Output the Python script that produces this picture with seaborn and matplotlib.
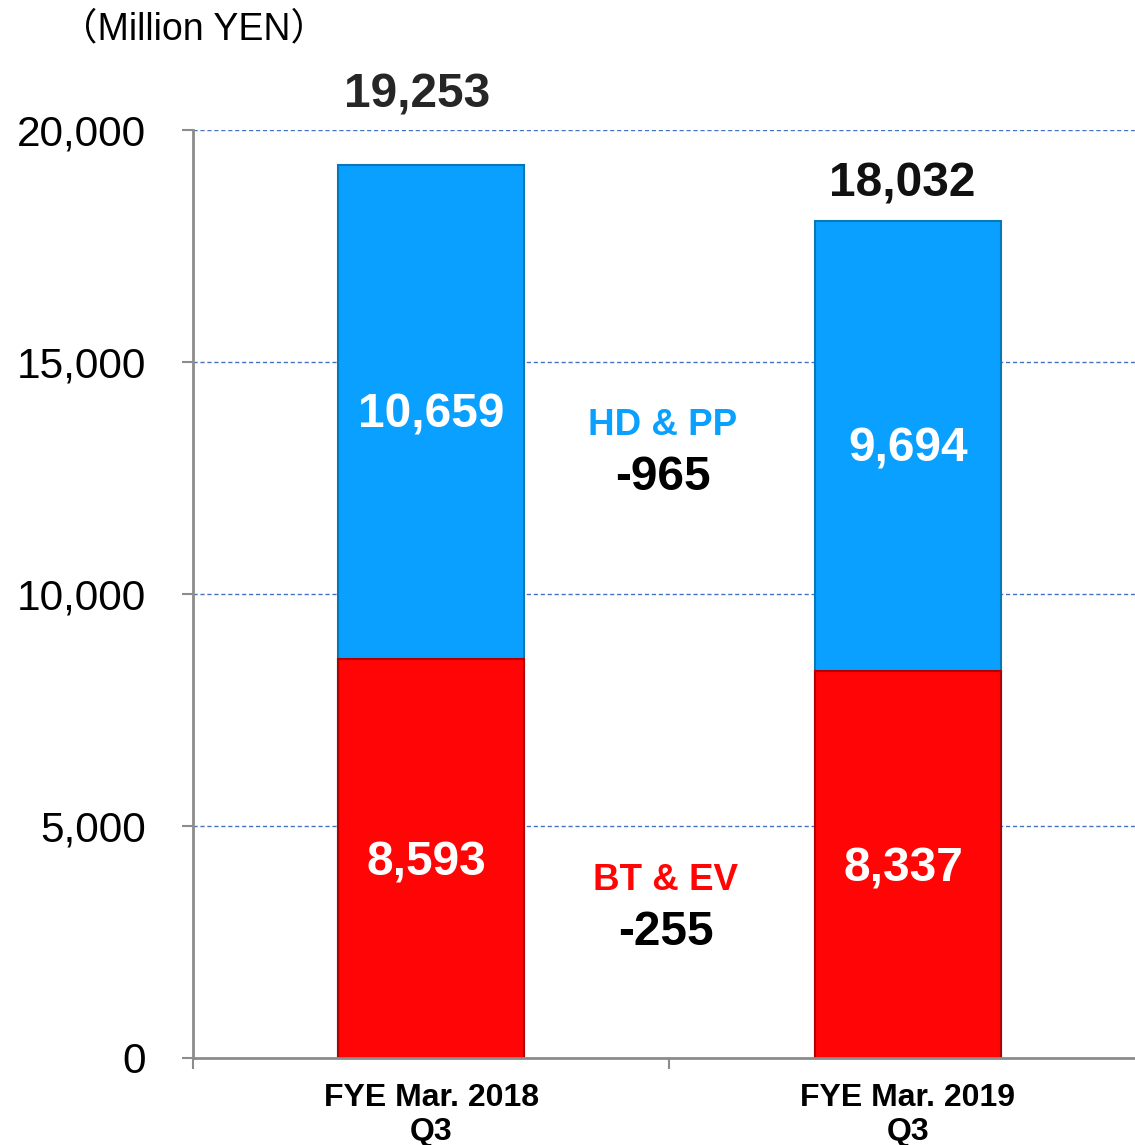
import matplotlib
matplotlib.use("Agg")
import matplotlib.pyplot as plt
import seaborn as sns

# data (Million YEN)
categories = ["FYE Mar. 2018\nQ3", "FYE Mar. 2019\nQ3"]
bt_ev = [8593, 8337]
hd_pp = [10659, 9694]
totals = [19253, 18032]
segment_names = ["HD & PP", "BT & EV"]
segment_changes = ["-965", "-255"]
y_ticks = [0, 5000, 10000, 15000, 20000]

blue = "#0aa0ff"
red = "#ff0505"

sns.set_style("white")
plt.rcParams["font.family"] = ["Liberation Sans", "Noto Sans CJK JP", "DejaVu Sans"]
plt.rcParams["text.color"] = "black"

fig = plt.figure(figsize=(11.35, 11.45), dpi=100)
ax = fig.add_axes([0.170, 0.076, 0.8397, 0.8105])

# blue bar = total, red bar drawn over its lower part
sns.barplot(x=categories, y=totals, color=blue, width=0.39, saturation=1,
            edgecolor="#0678b8", linewidth=1.5, ax=ax)
sns.barplot(x=categories, y=bt_ev, color=red, width=0.39, saturation=1,
            edgecolor="#b00000", linewidth=1.5, ax=ax)

ax.set_xlim(-0.5, 1.5)
ax.set_ylim(0, 20000)
ax.set_yticks(y_ticks)
ax.set_yticklabels([f"{v:,}" for v in y_ticks])
ax.yaxis.grid(True, linestyle=(0, (3, 2)), color="#4472c4", linewidth=1)
ax.set_axisbelow(True)

for side in ["top", "right"]:
    ax.spines[side].set_visible(False)
for side in ["left", "bottom"]:
    ax.spines[side].set_color("#8c8c8c")
    ax.spines[side].set_linewidth(2)

ax.tick_params(axis="y", direction="out", length=8, width=1.5, color="#8c8c8c",
               pad=26, labelsize=30.5, labelcolor="black", left=True)
ax.set_xticks([-0.5, 0.5, 1.5], minor=True)
ax.tick_params(axis="x", which="minor", direction="out", length=8, width=1.5,
               color="#8c8c8c", bottom=True)
ax.tick_params(axis="x", which="major", length=0, pad=18)
for lbl in ax.get_xticklabels():
    lbl.set_fontsize(23)
    lbl.set_fontweight("bold")
    lbl.set_linespacing(1.18)
    lbl.set_color("black")
ax.set_xlabel("")
ax.set_ylabel("")

# values inside the segments
for i in range(len(categories)):
    ax.text(i, bt_ev[i] + hd_pp[i] / 2 - 60, f"{hd_pp[i]:,}", ha="center", va="center",
            color="white", fontsize=34.5, fontweight="bold")
    ax.text(i - 0.01, bt_ev[i] / 2 - 90, f"{bt_ev[i]:,}", ha="center", va="center",
            color="white", fontsize=34.5, fontweight="bold")

# totals above bars
total_offsets = [(-10, 50), (-4, 27)]
total_colors = ["#262626", "#111111"]
for i, t in enumerate(totals):
    ax.annotate(f"{t:,}", (i, t), xytext=total_offsets[i], textcoords="offset points",
                ha="center", va="center", fontsize=34.5, fontweight="bold",
                color=total_colors[i])

# change labels between the bars
name_colors = [blue, red]
name_y = [13630, 3830]
change_y = [12500, 2700]
name_x = [0.486, 0.492]
for k in range(2):
    ax.text(name_x[k], name_y[k], segment_names[k], ha="center", va="center",
            color=name_colors[k], fontsize=26.5, fontweight="bold")
    ax.text(name_x[k], change_y[k], segment_changes[k], ha="center", va="center",
            color="black", fontsize=34.5, fontweight="bold")

fig.text(0.171, 0.974, "（Million YEN）", ha="center", va="center", fontsize=27,
         color="black")

fig.savefig("out.png", dpi=100)
